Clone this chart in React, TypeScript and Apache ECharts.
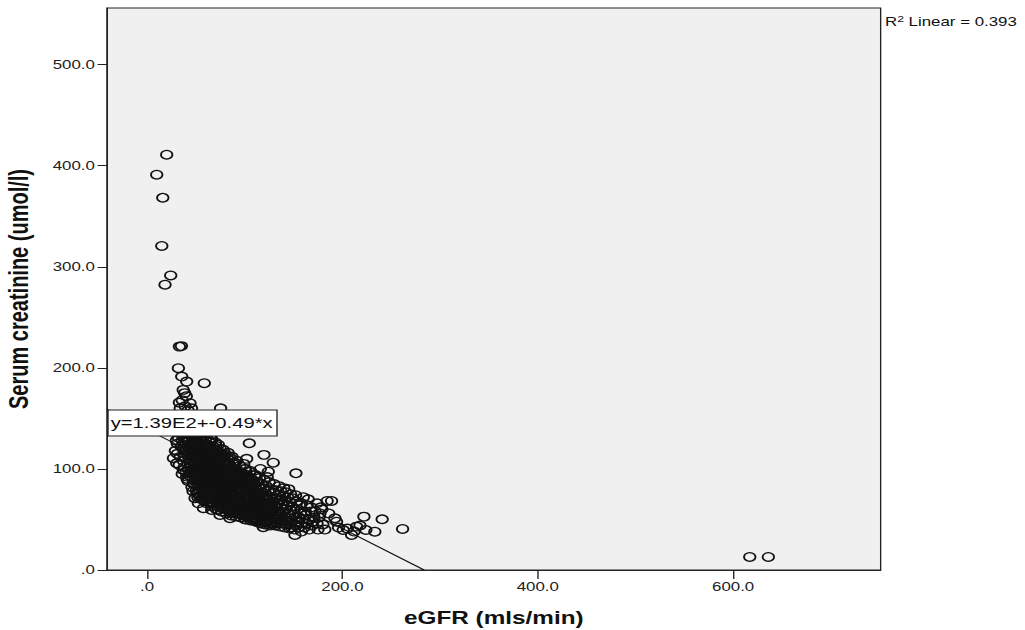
import React, { useEffect, useRef } from "react";
import * as echarts from "echarts";

// horizontal stretch of the reference picture
const STRETCH = 1.35;
const PAGE_W = 1025;
const PAGE_H = 630;

const xTicks = [0, 200, 400, 600];
const yTicks = [0, 100, 200, 300, 400, 500];
const xRange = [-41, 751];
const yRange = [0, 556];
const xTitle = "eGFR (mls/min)";
const yTitle = "Serum creatinine (umol/l)";
const intercept = 139;
const slope = -0.49;
const equationText = "y=1.39E2+-0.49*x";
const r2Value = "0.393";

// [eGFR, serum creatinine]
const highPoints: number[][] = [
  [20.1, 410.9], [9.9, 391.1], [16.1, 368.3], [15.1, 320.6], [24.2, 291.4], [18.4, 282.3],
  [33.1, 221.0], [35.2, 221.5], [32.1, 199.7], [35.5, 191.4], [40.6, 186.4], [58.6, 184.8],
  [37.0, 178.2], [38.5, 175.0], [33.1, 165.6], [44.0, 165.0], [75.3, 160.0], [40.2, 172.0],
  [36.0, 168.0], [45.5, 160.0], [39.0, 162.0], [34.0, 160.0], [42.0, 158.0],
];

const farPoints: number[][] = [[617, 12.9], [636, 12.9]];

const edgePoints: number[][] = [
  [27, 110.6], [30.4, 105.6], [37.1, 99], [40.6, 92.4], [47.4, 85.8], [49.1, 71], [52.5, 66],
  [54.2, 72.6], [57.7, 61.1], [64.5, 66], [66.2, 59.4], [72.9, 59.4], [74.7, 54.5], [84.9, 51.2],
  [86.6, 56.1], [100.3, 50.2], [112.2, 47.8], [119, 42.3], [29, 118], [31, 125], [32, 131],
  [34, 112], [33, 104], [30, 128], [35, 122], [34, 135], [31, 115],
];

const corePoints: number[][] = [
  [36, 95], [37, 108], [38, 118], [36, 128], [39, 135], [37, 142], [38, 102], [39, 112], [36, 150], [38, 126], [40, 97], [39, 148], [37, 120], [38, 132],
  [41, 90], [42, 100], [43, 110], [41, 118], [44, 124], [42, 131], [43, 139], [44, 146], [41, 152], [45, 105], [42, 113], [44, 96], [43, 128], [45, 135], [41, 142], [44, 115], [42, 88], [45, 150], [43, 120], [44, 108],
  [46, 82], [47, 92], [48, 100], [46, 108], [49, 114], [47, 121], [48, 127], [46, 134], [49, 140], [47, 146], [50, 88], [48, 96], [46, 118], [49, 104], [50, 130], [47, 112], [48, 137], [46, 150], [49, 122], [50, 95], [47, 78], [48, 85], [50, 110], [46, 96],
  [51, 76], [52, 84], [53, 91], [51, 98], [54, 104], [52, 111], [53, 118], [51, 124], [54, 130], [52, 137], [55, 143], [53, 80], [51, 88], [54, 95], [52, 101], [55, 108], [53, 114], [51, 132], [54, 120], [55, 86], [52, 72], [53, 126], [51, 140], [55, 99], [54, 112], [52, 93], [53, 105],
  [56, 70], [57, 78], [58, 85], [56, 92], [59, 99], [57, 106], [58, 112], [56, 119], [59, 125], [57, 131], [60, 137], [58, 74], [56, 82], [59, 88], [57, 95], [60, 102], [58, 108], [56, 114], [59, 121], [57, 140], [60, 80], [56, 127], [58, 96], [59, 68], [57, 118], [60, 91], [56, 104], [58, 132],
  [61, 66], [62, 73], [63, 80], [61, 87], [64, 93], [62, 100], [63, 106], [61, 112], [64, 118], [62, 124], [65, 130], [63, 70], [61, 77], [64, 84], [62, 90], [65, 96], [63, 103], [61, 120], [64, 109], [62, 135], [65, 75], [63, 115], [61, 98], [64, 126], [62, 82], [65, 88], [63, 92], [61, 105],
  [66, 63], [67, 70], [68, 76], [66, 83], [69, 89], [67, 96], [68, 102], [66, 108], [69, 114], [67, 120], [70, 126], [68, 66], [66, 73], [69, 79], [67, 86], [70, 92], [68, 98], [66, 104], [69, 110], [67, 116], [70, 72], [68, 122], [66, 130], [69, 94], [67, 81], [70, 100], [68, 86], [66, 91],
  [71, 60], [72, 66], [73, 72], [71, 78], [74, 84], [72, 90], [73, 96], [71, 102], [74, 108], [72, 114], [75, 120], [73, 63], [71, 69], [74, 75], [72, 81], [75, 87], [73, 93], [71, 99], [74, 104], [72, 110], [75, 68], [73, 116], [71, 88], [74, 92], [72, 76], [75, 98], [73, 124],
  [76, 58], [77, 64], [78, 70], [76, 76], [79, 81], [77, 87], [78, 92], [76, 98], [79, 104], [77, 110], [80, 115], [78, 61], [76, 67], [79, 73], [77, 79], [80, 84], [78, 90], [76, 95], [79, 100], [77, 106], [80, 64], [78, 119], [76, 86], [79, 112], [77, 70],
  [81, 56], [82, 62], [83, 67], [81, 73], [84, 78], [82, 84], [83, 89], [81, 95], [84, 100], [82, 106], [85, 111], [83, 59], [81, 65], [84, 70], [82, 76], [85, 81], [83, 86], [81, 92], [84, 97], [82, 103], [85, 62], [83, 116], [81, 80], [84, 88],
  [86, 54], [87, 60], [88, 65], [86, 70], [89, 75], [87, 81], [88, 86], [86, 91], [89, 96], [87, 101], [90, 106], [88, 57], [86, 63], [89, 68], [87, 73], [90, 78], [88, 83], [86, 97], [89, 90], [87, 112], [90, 60], [88, 94], [86, 77],
  [91, 53], [92, 58], [93, 63], [91, 68], [94, 73], [92, 78], [93, 83], [91, 88], [94, 93], [92, 98], [95, 103], [93, 56], [91, 61], [94, 66], [92, 71], [95, 76], [93, 81], [91, 95], [94, 86], [92, 108], [95, 58], [93, 90],
  [96, 52], [97, 57], [98, 61], [96, 66], [99, 71], [97, 76], [98, 80], [96, 85], [99, 90], [97, 95], [100, 100], [98, 54], [96, 59], [99, 64], [97, 69], [100, 74], [98, 86], [96, 92], [99, 105], [97, 63], [100, 82],
  [101, 50], [102, 55], [103, 60], [101, 64], [104, 69], [102, 73], [103, 78], [101, 83], [104, 88], [102, 92], [105, 97], [103, 53], [101, 58], [104, 62], [102, 67], [105, 72], [103, 85], [101, 100], [104, 80], [102, 110],
  [106, 49], [107, 54], [108, 58], [106, 62], [109, 67], [107, 71], [108, 76], [106, 80], [109, 85], [107, 90], [110, 94], [108, 52], [106, 56], [109, 61], [107, 65], [110, 70], [108, 82], [106, 98], [109, 74],
  [111, 48], [112, 52], [113, 56], [111, 60], [114, 64], [112, 68], [113, 73], [111, 77], [114, 82], [112, 87], [115, 91], [113, 50], [111, 55], [114, 58], [112, 62], [115, 67], [113, 79], [111, 94], [114, 71],
  [116, 46], [117, 50], [118, 54], [116, 58], [119, 62], [117, 66], [118, 71], [116, 75], [119, 80], [117, 85], [120, 89], [118, 48], [116, 53], [119, 57], [117, 61], [120, 70], [118, 77], [116, 100],
  [121, 45], [122, 49], [123, 53], [121, 57], [124, 61], [122, 65], [123, 69], [121, 73], [124, 78], [122, 83], [125, 87], [123, 47], [121, 52], [124, 55], [122, 59], [125, 66], [123, 92],
  [126, 44], [127, 48], [128, 52], [126, 55], [129, 59], [127, 63], [128, 67], [126, 71], [129, 76], [127, 80], [130, 85], [128, 46], [126, 50], [129, 54], [127, 58], [130, 64],
  [131, 44], [132, 47], [133, 51], [131, 54], [134, 58], [132, 62], [133, 66], [131, 70], [134, 74], [132, 79], [135, 83], [133, 46], [131, 50], [134, 56],
  [136, 43], [137, 46], [138, 50], [136, 53], [139, 57], [137, 61], [138, 65], [136, 69], [139, 73], [137, 78], [140, 81], [138, 48], [136, 58],
  [141, 42], [142, 45], [143, 49], [141, 52], [144, 56], [142, 60], [143, 64], [141, 68], [144, 72], [142, 77], [145, 80], [143, 47],
  [146, 41], [147, 45], [148, 48], [146, 51], [149, 55], [147, 59], [148, 63], [146, 67], [149, 71], [147, 75], [150, 60],
];

const denseCorePoints: number[][] = [
  [43.5, 93], [44.5, 102], [45.5, 112], [43.5, 119], [46.5, 127], [44.5, 133], [45.5, 141], [47.5, 86], [46.5, 99], [48.5, 108],
  [47.5, 116], [49.5, 125], [48.5, 132], [47.5, 139], [50.5, 79], [49.5, 92], [51.5, 103], [50.5, 115], [52.5, 121], [51.5, 128],
  [53.5, 135], [52.5, 77], [54.5, 85], [53.5, 97], [55.5, 110], [54.5, 117], [56.5, 124], [55.5, 132], [57.5, 72], [56.5, 87],
  [58.5, 94], [57.5, 101], [59.5, 109], [58.5, 116], [60.5, 122], [59.5, 129], [61.5, 70], [60.5, 84], [62.5, 88], [61.5, 95],
  [63.5, 99], [62.5, 107], [64.5, 113], [63.5, 121], [65.5, 127], [66.5, 67], [65.5, 79], [67.5, 84], [66.5, 94], [68.5, 99],
  [67.5, 106], [69.5, 111], [68.5, 118], [70.5, 123], [71.5, 64], [70.5, 76], [72.5, 80], [71.5, 91], [73.5, 95], [72.5, 100],
  [74.5, 106], [73.5, 112], [75.5, 116], [76.5, 62], [75.5, 73], [77.5, 78], [76.5, 88], [78.5, 95], [77.5, 98], [79.5, 108],
  [78.5, 113], [81.5, 60], [80.5, 71], [82.5, 75], [81.5, 86], [83.5, 93], [82.5, 97], [84.5, 104], [83.5, 109], [86.5, 58],
  [85.5, 67], [87.5, 72], [86.5, 84], [88.5, 89], [87.5, 94], [89.5, 100], [88.5, 105], [91.5, 56], [90.5, 65], [92.5, 69],
  [91.5, 80], [93.5, 85], [92.5, 90], [94.5, 97], [96.5, 55], [95.5, 63], [97.5, 67], [96.5, 78], [98.5, 83], [97.5, 88],
  [99.5, 95], [101.5, 53], [100.5, 61], [102.5, 65], [101.5, 75], [103.5, 80], [102.5, 86], [104.5, 92], [106.5, 51], [105.5, 59],
  [107.5, 63], [106.5, 73], [108.5, 79], [107.5, 84], [111.5, 50], [110.5, 57], [112.5, 65], [111.5, 71], [113.5, 76], [116.5, 48],
  [115.5, 55], [117.5, 63], [116.5, 68], [118.5, 73], [121.5, 47], [120.5, 54], [122.5, 62], [121.5, 67], [126.5, 46], [125.5, 53],
  [127.5, 61], [126.5, 66],
];

const tailPoints: number[][] = [
  [104.7, 125.4], [119.7, 113.9], [129.2, 106.2], [152.4, 95.7], [124.1, 97.3], [165, 70], [184.4, 68.3],
  [151.4, 34.7], [192.3, 51.2], [200.8, 39.6], [188.9, 68.3], [222, 52.8], [240.7, 50.2], [261.6, 40.6],
  [233.2, 37.9], [224, 39.6], [214.5, 42.9], [209.4, 34.7], [194, 47.8], [180, 45], [176, 52], [172, 58],
  [170, 48], [168, 62], [182, 40], [186, 56], [196, 42], [205, 41], [212, 38], [218, 44], [178, 62], [174, 66],
  [160, 72], [158, 66], [162, 58], [156, 52], [164, 46], [166, 40], [148, 42], [154, 47], [158, 38],
  [151, 40], [153, 44], [155, 48], [152, 52], [157, 56], [154, 60], [156, 64], [153, 68], [159, 50], [155, 42], [152, 74],
  [161, 42], [163, 46], [166, 50], [162, 54], [168, 58], [171, 52], [174, 46], [177, 56], [179, 60], [164, 64], [169, 44], [175, 40],
];

const fmt = (v: number) => (v === 0 ? ".0" : v.toFixed(1));

export default function App() {
  const ref = useRef<HTMLDivElement>(null);

  useEffect(() => {
    if (!ref.current) return;
    const chart = echarts.init(ref.current, null, { renderer: "svg" });
    const chartW = PAGE_W / STRETCH;
    const font = '"Liberation Sans", Arial, sans-serif';
    const points = [...highPoints, ...edgePoints, ...corePoints, ...denseCorePoints, ...tailPoints, ...farPoints];
    const lineStart = [xRange[0], intercept + slope * xRange[0]];
    const lineEnd = [-intercept / slope, 0];

    const gridLeft = 107 / STRETCH;
    const gridRight = chartW - 881 / STRETCH;

    chart.setOption({
      animation: false,
      textStyle: { fontFamily: font },
      grid: {
        left: gridLeft,
        right: gridRight,
        top: 8,
        bottom: 60,
        show: true,
        containLabel: false,
        outerBoundsMode: "none",
        backgroundColor: "#f0f0f0",
        borderColor: "#222",
        borderWidth: 1,
      },
      xAxis: {
        type: "value",
        min: xRange[0],
        max: xRange[1],
        axisLine: { show: true, onZero: false, lineStyle: { color: "#222", width: 1 } },
        axisTick: { show: true, customValues: xTicks, length: 9, lineStyle: { color: "#222" } },
        axisLabel: { customValues: xTicks, formatter: fmt, fontSize: 12.5, color: "#222", margin: 10, fontFamily: font },
        splitLine: { show: false },
        name: xTitle,
        nameLocation: "middle",
        nameGap: 39,
        nameTextStyle: { fontSize: 18, fontWeight: "bold", color: "#111", fontFamily: font },
      },
      yAxis: {
        type: "value",
        min: yRange[0],
        max: yRange[1],
        axisLine: { show: true, onZero: false, lineStyle: { color: "#222", width: 1 } },
        axisTick: { show: true, customValues: yTicks, length: 7, lineStyle: { color: "#222" } },
        axisLabel: { customValues: yTicks, formatter: fmt, fontSize: 12.5, color: "#222", margin: 9, fontFamily: font },
        splitLine: { show: false },
        name: yTitle,
        nameLocation: "middle",
        nameGap: 56,
        nameTextStyle: { fontSize: 20, fontWeight: "bold", color: "#111", fontFamily: font },
      },
      series: [
        {
          type: "line",
          data: [lineStart, lineEnd],
          symbol: "none",
          silent: true,
          lineStyle: { color: "#111", width: 1 },
          z: 2,
        },
        {
          type: "scatter",
          data: points,
          symbol: "circle",
          symbolSize: 8.5,
          silent: true,
          itemStyle: { color: "rgba(0,0,0,0)", borderColor: "#111", borderWidth: 1.35, opacity: 1 },
          z: 3,
        },
      ],
      graphic: [
        {
          type: "rect",
          z: 100,
          shape: { x: 108 / STRETCH, y: 410, width: (277 - 108) / STRETCH, height: 26 },
          style: { fill: "#ffffff", stroke: "#222", lineWidth: 1 },
        },
        {
          type: "text",
          z: 101,
          x: 108 / STRETCH + 2,
          y: 423,
          style: { text: equationText, fontSize: 15, fill: "#111", fontFamily: font, verticalAlign: "middle", align: "left" },
        },
        {
          type: "text",
          z: 101,
          x: 885 / STRETCH,
          y: 22,
          style: {
            text: "{a|R}{s|2}{a| Linear = " + r2Value + "}",
            verticalAlign: "middle",
            align: "left",
            fontFamily: font,
            rich: {
              a: { fontSize: 12.5, fill: "#111", fontFamily: font },
              s: { fontSize: 9, fill: "#111", fontFamily: font, padding: [0, 0, 7, 0] },
            },
          },
        },
      ],
    });
    return () => chart.dispose();
  }, []);

  return (
    <div style={{ position: "fixed", left: 0, top: 0, width: PAGE_W, height: PAGE_H, overflow: "hidden", background: "#fff" }}>
      <div
        ref={ref}
        style={{ width: PAGE_W / STRETCH, height: PAGE_H, transform: `scaleX(${STRETCH})`, transformOrigin: "0 0" }}
      />
    </div>
  );
}
